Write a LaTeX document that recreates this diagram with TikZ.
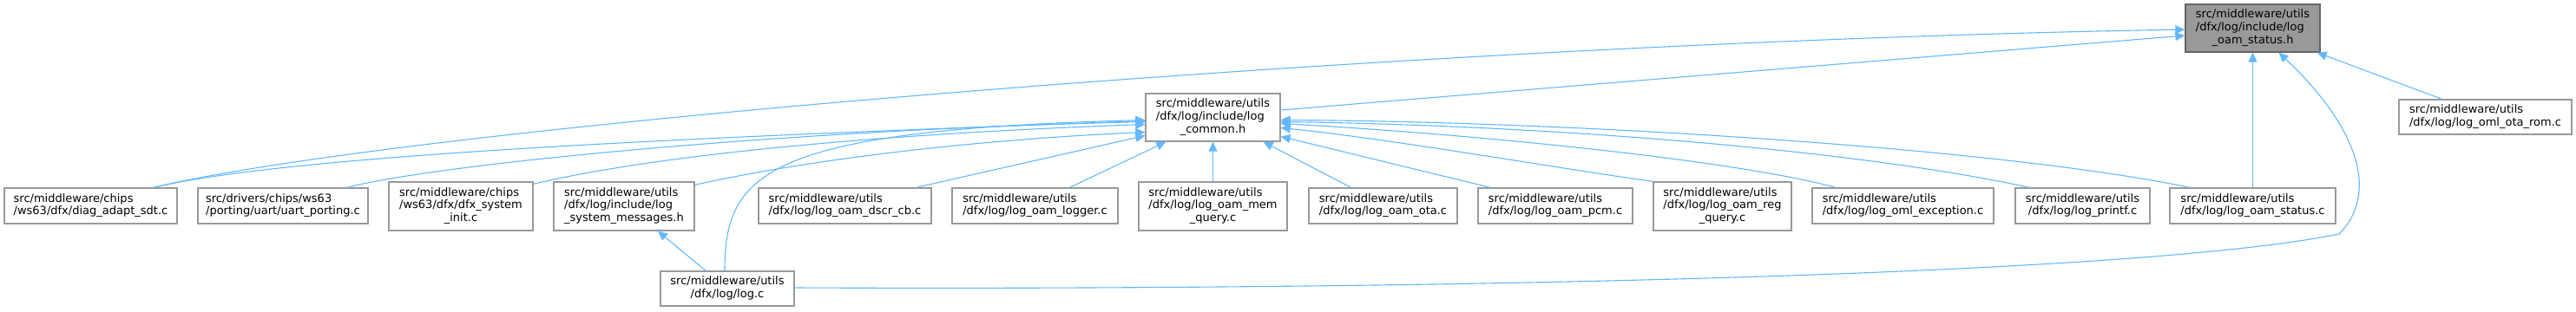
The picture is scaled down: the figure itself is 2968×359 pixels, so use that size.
\documentclass[tikz,border=0pt]{standalone}
\usepackage{fontspec}
\setmainfont{DejaVu Sans}
\usetikzlibrary{arrows.meta,calc}
\definecolor{edgeblue}{HTML}{63B8FF}
\definecolor{boxgray}{HTML}{999999}
\definecolor{rootborder}{HTML}{666666}
\newcommand{\lbl}[2]{\begin{tabular}{@{}l@{}}#1\\\multicolumn{1}{@{}c@{}}{#2}\end{tabular}}
\begin{document}
\begin{tikzpicture}[x=1pt,y=-1pt,
  font=\fontsize{13}{14.7}\selectfont,
  filebox/.style={draw=boxgray,fill=white,line width=1.3pt,inner sep=0pt,rectangle,align=center},
  rootbox/.style={draw=rootborder,fill=boxgray,line width=1.3pt,inner sep=0pt,rectangle,align=center},
  edge/.style={draw=edgeblue,line width=1.1pt,-{Triangle[length=11pt,width=10pt,fill=edgeblue]}}]
\useasboundingbox (0,0) rectangle (2968,359);
% nodes
\node[rootbox,minimum width=155,minimum height=55] (statush) at (2595.5,32.5) {\lbl{src/middleware/utils\\/dfx/log/include/log}{\_oam\_status.h}};
\node[filebox,minimum width=155,minimum height=55] (common) at (1397.5,135.5) {\lbl{src/middleware/utils\\/dfx/log/include/log}{\_common.h}};
\node[filebox,minimum width=199,minimum height=40] (otarom) at (2863.5,135) {\lbl{src/middleware/utils}{/dfx/log/log\_oml\_ota\_rom.c}};
\node[filebox,minimum width=199,minimum height=41] (diag) at (104.5,237.5) {\lbl{src/middleware/chips}{/ws63/dfx/diag\_adapt\_sdt.c}};
\node[filebox,minimum width=196,minimum height=41] (uart) at (326,237.5) {\lbl{src/drivers/chips/ws63}{/porting/uart/uart\_porting.c}};
\node[filebox,minimum width=166,minimum height=56] (sysinit) at (531,238) {\lbl{src/middleware/chips\\/ws63/dfx/dfx\_system}{\_init.c}};
\node[filebox,minimum width=162,minimum height=56] (sysmsg) at (719,238) {\lbl{src/middleware/utils\\/dfx/log/include/log}{\_system\_messages.h}};
\node[filebox,minimum width=154,minimum height=40] (logc) at (838,333) {\lbl{src/middleware/utils}{/dfx/log/log.c}};
\node[filebox,minimum width=199,minimum height=41] (dscr) at (973.5,237.5) {\lbl{src/middleware/utils}{/dfx/log/log\_oam\_dscr\_cb.c}};
\node[filebox,minimum width=191,minimum height=41] (logger) at (1192.5,237.5) {\lbl{src/middleware/utils}{/dfx/log/log\_oam\_logger.c}};
\node[filebox,minimum width=171,minimum height=56] (memq) at (1397.5,238) {\lbl{src/middleware/utils\\/dfx/log/log\_oam\_mem}{\_query.c}};
\node[filebox,minimum width=171,minimum height=41] (ota) at (1593.5,237.5) {\lbl{src/middleware/utils}{/dfx/log/log\_oam\_ota.c}};
\node[filebox,minimum width=178,minimum height=41] (pcm) at (1792,237.5) {\lbl{src/middleware/utils}{/dfx/log/log\_oam\_pcm.c}};
\node[filebox,minimum width=159,minimum height=56] (regq) at (1984.5,238) {\lbl{src/middleware/utils\\/dfx/log/log\_oam\_reg}{\_query.c}};
\node[filebox,minimum width=209,minimum height=41] (exc) at (2192.5,237.5) {\lbl{src/middleware/utils}{/dfx/log/log\_oml\_exception.c}};
\node[filebox,minimum width=155,minimum height=41] (printf) at (2399.5,237.5) {\lbl{src/middleware/utils}{/dfx/log/log\_printf.c}};
\node[filebox,minimum width=191,minimum height=41] (statusc) at (2595.5,237.5) {\lbl{src/middleware/utils}{/dfx/log/log\_oam\_status.c}};
% edges to log_oam_status.h
\draw[edge] ($(diag.north)+(72.5,0)$) .. controls (450,150) and (1600,50) .. ($(statush.west)+(0,1.5)$);
\draw[edge] ($(common.east)+(0,-8.5)$) -- ($(statush.west)+(0,8.5)$);
\draw[edge] (statusc.north) -- (statush.south);
\draw[edge] ($(logc.east)+(0,-1)$) .. controls (1600,335) and (2450,320) .. (2695,270) .. controls (2740,225) and (2720,150) .. ($(statush.south)+(30,0)$);
\draw[edge] ($(otarom.north)+(-50,0)$) -- ($(statush.south east)+(-4,0)$);
% edges to log_common.h
\draw[edge] ($(diag.north)+(72.5,0)$) .. controls (350,175) and (900,155) .. ($(common.west)+(0,4)$);
\draw[edge] ($(uart.north)+(74,0)$) .. controls (500,190) and (900,150) .. ($(common.west)+(0,5)$);
\draw[edge] ($(sysinit.north east)+(0,3)$) .. controls (750,180) and (1000,155) .. ($(common.west)+(0,8)$);
\draw[edge] ($(sysmsg.north east)+(0,4)$) .. controls (950,180) and (1150,160) .. ($(common.west)+(0,17)$);
\draw[edge] ($(logc.north)+(-3,0)$) .. controls (835,200) and (880,150) .. ($(common.west)+(0,3)$);
\draw[edge] ($(dscr.north)+(82,0)$) -- ($(common.west)+(0,21)$);
\draw[edge] ($(logger.north)+(40,0)$) -- ($(common.south west)+(24,0)$);
\draw[edge] (memq.north) -- (common.south);
\draw[edge] ($(ota.north)+(-37,0)$) -- ($(common.south east)+(-20,0)$);
\draw[edge] ($(pcm.north)+(-75,0)$) -- ($(common.east)+(0,22)$);
\draw[edge] (regq.north west) .. controls (1800,195) and (1600,160) .. ($(common.east)+(0,12)$);
\draw[edge] ($(exc.north)+(-77.5,0)$) .. controls (2000,185) and (1700,155) .. ($(common.east)+(0,7)$);
\draw[edge] ($(printf.north)+(-61.5,0)$) .. controls (2150,175) and (1800,145) .. ($(common.east)+(0,5)$);
\draw[edge] ($(statusc.north)+(-72.5,0)$) .. controls (2300,170) and (1800,140) .. ($(common.east)+(0,3)$);
% edge to log_system_messages.h
\draw[edge] ($(logc.north)+(-25,0)$) -- ($(sysmsg.south)+(39,0)$);
\end{tikzpicture}
\end{document}
